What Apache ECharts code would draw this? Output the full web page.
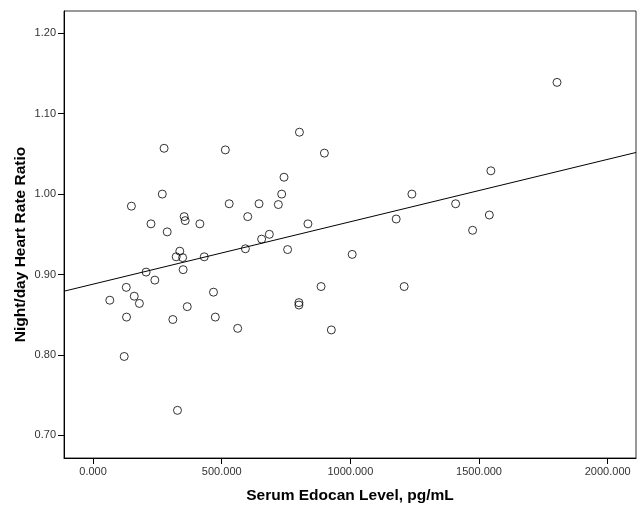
<!DOCTYPE html>
<html>
<head>
<meta charset="utf-8">
<script src="https://cdn.jsdelivr.net/npm/echarts@6/dist/echarts.min.js"></script>
<style>
  html, body { margin: 0; padding: 0; background: #fff; }
  #chart { width: 640px; height: 507px; }
</style>
</head>
<body>
<div id="chart"></div>
<script>
// Serum Edocan level (pg/mL) vs night/day heart rate ratio
const edocan = [
  149, 276, 269, 225, 288, 354, 358, 415, 514, 529,
  601, 645, 720, 733, 742, 802, 899, 835, 655, 685,
  337, 323, 348, 432, 592, 756, 1007, 350, 206, 240,
  129, 160, 65, 180, 130, 468, 366, 310, 475, 562,
  886, 800, 800, 926, 121, 328, 1803, 1546, 1239, 1409,
  1178, 1540, 1475, 1209
]
const hrRatio = [
  0.985, 1.057, 1.000, 0.963, 0.953, 0.972, 0.967, 0.963, 1.055, 0.988,
  0.972, 0.988, 0.987, 1.000, 1.021, 1.077, 1.051, 0.963, 0.944, 0.950,
  0.929, 0.922, 0.921, 0.922, 0.932, 0.931, 0.925, 0.906, 0.903, 0.893,
  0.884, 0.873, 0.868, 0.864, 0.847, 0.878, 0.860, 0.844, 0.847, 0.833,
  0.885, 0.865, 0.862, 0.831, 0.798, 0.731, 1.139, 1.029, 1.000, 0.988,
  0.969, 0.974, 0.955, 0.885
]

// fit line end points (at the axis limits)
const fitX = [-113, 2110]
const fitY = [0.8792, 1.0518]

const xTicks = [0, 500, 1000, 1500, 2000]
const yTicks = [0.70, 0.80, 0.90, 1.00, 1.10, 1.20]

const chart = echarts.init(document.getElementById('chart'))

const axisText = { color: '#333', fontSize: 11, fontFamily: 'Arial, Liberation Sans, sans-serif' }
const nameText = { color: '#000', fontSize: 15.5, fontWeight: 'bold', fontFamily: 'Arial, Liberation Sans, sans-serif' }

chart.setOption({
  animation: false,
  grid: {
    left: 64,
    right: 4,
    top: 11,
    bottom: 49,
    outerBoundsMode: 'none',
    show: true,
    borderColor: '#333',
    borderWidth: 1
  },
  xAxis: {
    type: 'value',
    min: -113,
    max: 2110,
    name: 'Serum Edocan Level, pg/mL',
    nameLocation: 'middle',
    nameGap: 30,
    nameMoveOverlap: false,
    nameTextStyle: nameText,
    axisLine: { show: true, onZero: false, lineStyle: { color: '#000' } },
    axisTick: { show: true, length: 6, customValues: xTicks, lineStyle: { color: '#000' } },
    axisLabel: {
      ...axisText,
      margin: 8,
      customValues: xTicks,
      formatter: v => v.toFixed(3)
    },
    splitLine: { show: false }
  },
  yAxis: {
    type: 'value',
    min: 0.6717,
    max: 1.2278,
    name: 'Night/day Heart Rate Ratio',
    nameLocation: 'middle',
    nameGap: 35,
    nameMoveOverlap: false,
    // title sits a little below the middle of the axis in the original
    nameTextStyle: { ...nameText, padding: [0, 20, 0, 0] },
    axisLine: { show: true, onZero: false, lineStyle: { color: '#000' } },
    axisTick: { show: true, length: 6, customValues: yTicks, lineStyle: { color: '#000' } },
    axisLabel: {
      ...axisText,
      margin: 8,
      customValues: yTicks,
      formatter: v => v.toFixed(2)
    },
    splitLine: { show: false }
  },
  series: [
    {
      type: 'line',
      data: fitX.map((x, i) => [x, fitY[i]]),
      symbol: 'none',
      lineStyle: { color: '#000', width: 1 },
      silent: true,
      z: 1
    },
    {
      type: 'scatter',
      data: edocan.map((x, i) => [x, hrRatio[i]]),
      symbol: 'circle',
      symbolSize: 8,
      itemStyle: { color: 'rgba(255,255,255,0)', borderColor: '#000', borderWidth: 1 },
      z: 2
    }
  ]
})
</script>
</body>
</html>
